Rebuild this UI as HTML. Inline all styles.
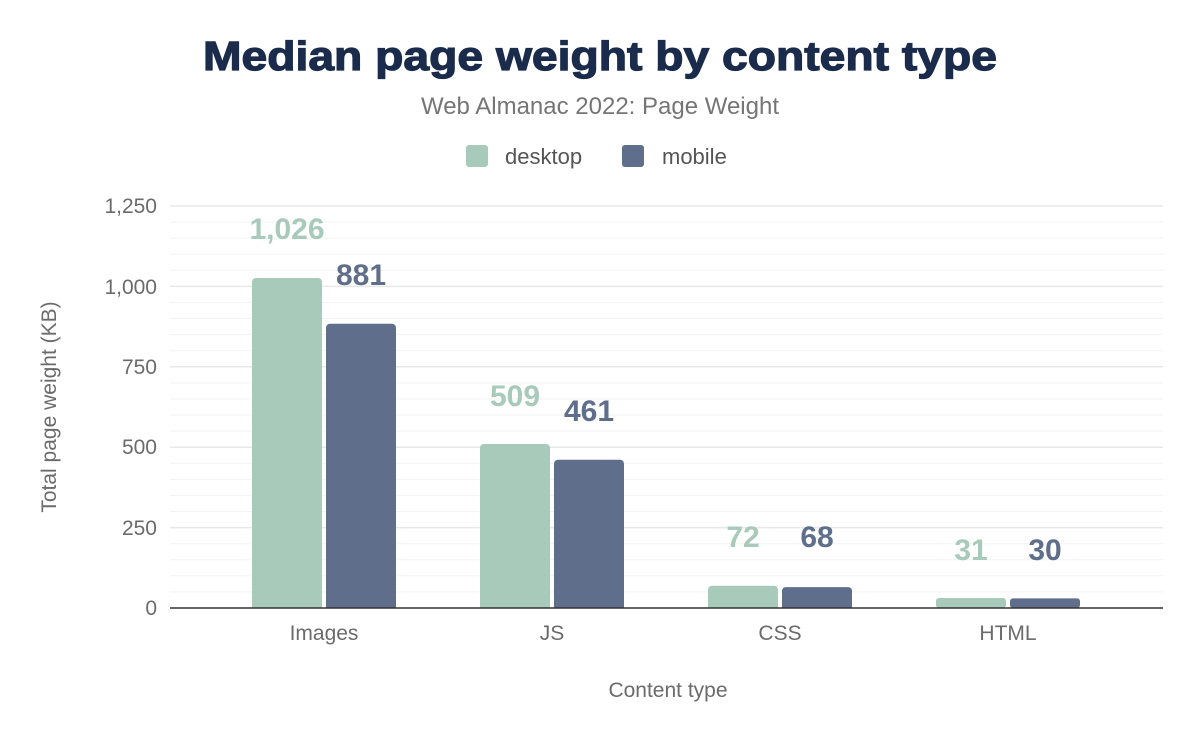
<!DOCTYPE html>
<html><head><style>body{margin:0;background:#fff}svg{display:block;font-family:"Liberation Sans",sans-serif}</style></head>
<body>
<svg width="1200" height="742" viewBox="0 0 1200 742">
<rect width="1200" height="742" fill="#fff"/>
<text x="600" y="70" text-anchor="middle" font-size="41" font-weight="bold" fill="#1a2b4b" stroke="#1a2b4b" stroke-width="1.2" textLength="794" lengthAdjust="spacingAndGlyphs">Median page weight by content type</text>
<text x="600" y="114" text-anchor="middle" font-size="24" fill="#757575">Web Almanac 2022: Page Weight</text>
<rect x="466" y="145" width="22" height="22" rx="3" fill="#a8cabb"/>
<text x="505" y="164" font-size="22" fill="#555">desktop</text>
<rect x="622" y="145" width="22" height="22" rx="3" fill="#5f6e8a"/>
<text x="662" y="164" font-size="22" fill="#555">mobile</text>
<g stroke="#f3f3f3" stroke-width="1">
<line x1="170" x2="1163" y1="591.9" y2="591.9"/><line x1="170" x2="1163" y1="575.8" y2="575.8"/><line x1="170" x2="1163" y1="559.8" y2="559.8"/><line x1="170" x2="1163" y1="543.7" y2="543.7"/>
<line x1="170" x2="1163" y1="511.5" y2="511.5"/><line x1="170" x2="1163" y1="495.4" y2="495.4"/><line x1="170" x2="1163" y1="479.4" y2="479.4"/><line x1="170" x2="1163" y1="463.3" y2="463.3"/>
<line x1="170" x2="1163" y1="431.1" y2="431.1"/><line x1="170" x2="1163" y1="415" y2="415"/><line x1="170" x2="1163" y1="398.9" y2="398.9"/><line x1="170" x2="1163" y1="382.9" y2="382.9"/>
<line x1="170" x2="1163" y1="350.7" y2="350.7"/><line x1="170" x2="1163" y1="334.6" y2="334.6"/><line x1="170" x2="1163" y1="318.5" y2="318.5"/><line x1="170" x2="1163" y1="302.4" y2="302.4"/>
<line x1="170" x2="1163" y1="270.2" y2="270.2"/><line x1="170" x2="1163" y1="254.2" y2="254.2"/><line x1="170" x2="1163" y1="238.1" y2="238.1"/><line x1="170" x2="1163" y1="222" y2="222"/>
</g>
<g stroke="#e8e8e8" stroke-width="1.5">
<line x1="170" x2="1163" y1="527.6" y2="527.6"/><line x1="170" x2="1163" y1="447.2" y2="447.2"/><line x1="170" x2="1163" y1="366.8" y2="366.8"/><line x1="170" x2="1163" y1="286.4" y2="286.4"/><line x1="170" x2="1163" y1="206" y2="206"/>
</g>
<g font-size="21" fill="#6b6b6b" text-anchor="end">
<text x="157" y="615">0</text><text x="157" y="535">250</text><text x="157" y="454">500</text><text x="157" y="374">750</text><text x="157" y="294">1,000</text><text x="157" y="213">1,250</text>
</g>
<g fill="#a8cabb">
<path d="M252,608V282a4,4 0 0 1 4,-4H318a4,4 0 0 1 4,4V608Z"/>
<path d="M480,608V448a4,4 0 0 1 4,-4H546a4,4 0 0 1 4,4V608Z"/>
<path d="M708,608V589.8a4,4 0 0 1 4,-4H774a4,4 0 0 1 4,4V608Z"/>
<rect x="936" y="598" width="70" height="10" rx="3"/>
</g>
<g fill="#5f6e8a">
<path d="M326,608V327.7a4,4 0 0 1 4,-4H392a4,4 0 0 1 4,4V608Z"/>
<path d="M554,608V463.7a4,4 0 0 1 4,-4H620a4,4 0 0 1 4,4V608Z"/>
<path d="M782,608V590.1a4,4 0 0 1 4,-3H848a4,4 0 0 1 4,3V608Z"/>
<rect x="1010" y="598.4" width="70" height="9.6" rx="3"/>
</g>
<line x1="170" x2="1163" y1="608" y2="608" stroke="#333" stroke-width="1.5"/>
<g font-size="30" font-weight="bold" text-anchor="middle">
<g fill="#a8cabb"><text x="287" y="239">1,026</text><text x="515" y="406">509</text><text x="743" y="547">72</text><text x="971" y="560">31</text></g>
<g fill="#5f6e8a"><text x="361" y="285">881</text><text x="589" y="421">461</text><text x="817" y="547">68</text><text x="1045" y="560">30</text></g>
</g>
<g font-size="21" fill="#6b6b6b" text-anchor="middle">
<text x="324" y="640">Images</text><text x="552" y="640">JS</text><text x="780" y="640">CSS</text><text x="1008" y="640">HTML</text>
<text x="668" y="697">Content type</text>
<text transform="translate(56,407) rotate(-90)">Total page weight (KB)</text>
</g>
</svg>
</body></html>
